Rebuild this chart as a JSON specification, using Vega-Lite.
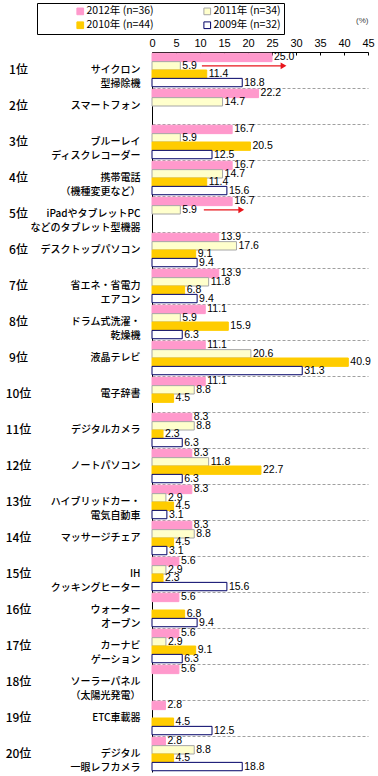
{
  "$schema": "https://vega.github.io/schema/vega-lite/v6.json",
  "width": 216,
  "height": 720,
  "autosize": {"type": "none"},
  "padding": {"left": 152, "top": 52, "right": 10, "bottom": 4},
  "background": "white",
  "config": {
    "view": {"stroke": null},
    "font": "Noto Sans CJK JP",
    "legend": {
      "orient": "none",
      "legendX": -115,
      "legendY": -49,
      "direction": "horizontal",
      "columns": 2,
      "strokeColor": "black",
      "strokeWidth": 1,
      "padding": 3,
      "symbolOffset": 35,
      "columnPadding": 13,
      "rowPadding": 2,
      "symbolType": "square",
      "symbolSize": 45,
      "symbolStrokeWidth": 1,
      "labelOffset": 1,
      "labelFontSize": 10.5,
      "labelFont": "Noto Sans CJK JP",
      "labelColor": "black",
      "title": null
    }
  },
  "datasets": {
    "main": [
      {"cat": "1位|サイクロン\n型掃除機", "year": "2012年 (n=36)", "value": 25.0},
      {"cat": "1位|サイクロン\n型掃除機", "year": "2011年 (n=34)", "value": 5.9},
      {"cat": "1位|サイクロン\n型掃除機", "year": "2010年 (n=44)", "value": 11.4},
      {"cat": "1位|サイクロン\n型掃除機", "year": "2009年 (n=32)", "value": 18.8},
      {"cat": "2位|スマートフォン", "year": "2012年 (n=36)", "value": 22.2},
      {"cat": "2位|スマートフォン", "year": "2011年 (n=34)", "value": 14.7},
      {"cat": "3位|ブルーレイ\nディスクレコーダー", "year": "2012年 (n=36)", "value": 16.7},
      {"cat": "3位|ブルーレイ\nディスクレコーダー", "year": "2011年 (n=34)", "value": 5.9},
      {"cat": "3位|ブルーレイ\nディスクレコーダー", "year": "2010年 (n=44)", "value": 20.5},
      {"cat": "3位|ブルーレイ\nディスクレコーダー", "year": "2009年 (n=32)", "value": 12.5},
      {"cat": "4位|携帯電話\n（機種変更など）", "year": "2012年 (n=36)", "value": 16.7},
      {"cat": "4位|携帯電話\n（機種変更など）", "year": "2011年 (n=34)", "value": 14.7},
      {"cat": "4位|携帯電話\n（機種変更など）", "year": "2010年 (n=44)", "value": 11.4},
      {"cat": "4位|携帯電話\n（機種変更など）", "year": "2009年 (n=32)", "value": 15.6},
      {"cat": "5位|iPadやタブレットPC\nなどのタブレット型機器", "year": "2012年 (n=36)", "value": 16.7},
      {"cat": "5位|iPadやタブレットPC\nなどのタブレット型機器", "year": "2011年 (n=34)", "value": 5.9},
      {"cat": "6位|デスクトップパソコン", "year": "2012年 (n=36)", "value": 13.9},
      {"cat": "6位|デスクトップパソコン", "year": "2011年 (n=34)", "value": 17.6},
      {"cat": "6位|デスクトップパソコン", "year": "2010年 (n=44)", "value": 9.1},
      {"cat": "6位|デスクトップパソコン", "year": "2009年 (n=32)", "value": 9.4},
      {"cat": "7位|省エネ・省電力\nエアコン", "year": "2012年 (n=36)", "value": 13.9},
      {"cat": "7位|省エネ・省電力\nエアコン", "year": "2011年 (n=34)", "value": 11.8},
      {"cat": "7位|省エネ・省電力\nエアコン", "year": "2010年 (n=44)", "value": 6.8},
      {"cat": "7位|省エネ・省電力\nエアコン", "year": "2009年 (n=32)", "value": 9.4},
      {"cat": "8位|ドラム式洗濯・\n乾燥機", "year": "2012年 (n=36)", "value": 11.1},
      {"cat": "8位|ドラム式洗濯・\n乾燥機", "year": "2011年 (n=34)", "value": 5.9},
      {"cat": "8位|ドラム式洗濯・\n乾燥機", "year": "2010年 (n=44)", "value": 15.9},
      {"cat": "8位|ドラム式洗濯・\n乾燥機", "year": "2009年 (n=32)", "value": 6.3},
      {"cat": "9位|液晶テレビ", "year": "2012年 (n=36)", "value": 11.1},
      {"cat": "9位|液晶テレビ", "year": "2011年 (n=34)", "value": 20.6},
      {"cat": "9位|液晶テレビ", "year": "2010年 (n=44)", "value": 40.9},
      {"cat": "9位|液晶テレビ", "year": "2009年 (n=32)", "value": 31.3},
      {"cat": "10位|電子辞書", "year": "2012年 (n=36)", "value": 11.1},
      {"cat": "10位|電子辞書", "year": "2011年 (n=34)", "value": 8.8},
      {"cat": "10位|電子辞書", "year": "2010年 (n=44)", "value": 4.5},
      {"cat": "11位|デジタルカメラ", "year": "2012年 (n=36)", "value": 8.3},
      {"cat": "11位|デジタルカメラ", "year": "2011年 (n=34)", "value": 8.8},
      {"cat": "11位|デジタルカメラ", "year": "2010年 (n=44)", "value": 2.3},
      {"cat": "11位|デジタルカメラ", "year": "2009年 (n=32)", "value": 6.3},
      {"cat": "12位|ノートパソコン", "year": "2012年 (n=36)", "value": 8.3},
      {"cat": "12位|ノートパソコン", "year": "2011年 (n=34)", "value": 11.8},
      {"cat": "12位|ノートパソコン", "year": "2010年 (n=44)", "value": 22.7},
      {"cat": "12位|ノートパソコン", "year": "2009年 (n=32)", "value": 6.3},
      {"cat": "13位|ハイブリッドカー・\n電気自動車", "year": "2012年 (n=36)", "value": 8.3},
      {"cat": "13位|ハイブリッドカー・\n電気自動車", "year": "2011年 (n=34)", "value": 2.9},
      {"cat": "13位|ハイブリッドカー・\n電気自動車", "year": "2010年 (n=44)", "value": 4.5},
      {"cat": "13位|ハイブリッドカー・\n電気自動車", "year": "2009年 (n=32)", "value": 3.1},
      {"cat": "14位|マッサージチェア", "year": "2012年 (n=36)", "value": 8.3},
      {"cat": "14位|マッサージチェア", "year": "2011年 (n=34)", "value": 8.8},
      {"cat": "14位|マッサージチェア", "year": "2010年 (n=44)", "value": 4.5},
      {"cat": "14位|マッサージチェア", "year": "2009年 (n=32)", "value": 3.1},
      {"cat": "15位|IH\nクッキングヒーター", "year": "2012年 (n=36)", "value": 5.6},
      {"cat": "15位|IH\nクッキングヒーター", "year": "2011年 (n=34)", "value": 2.9},
      {"cat": "15位|IH\nクッキングヒーター", "year": "2010年 (n=44)", "value": 2.3},
      {"cat": "15位|IH\nクッキングヒーター", "year": "2009年 (n=32)", "value": 15.6},
      {"cat": "16位|ウォーター\nオーブン", "year": "2012年 (n=36)", "value": 5.6},
      {"cat": "16位|ウォーター\nオーブン", "year": "2010年 (n=44)", "value": 6.8},
      {"cat": "16位|ウォーター\nオーブン", "year": "2009年 (n=32)", "value": 9.4},
      {"cat": "17位|カーナビ\nゲーション", "year": "2012年 (n=36)", "value": 5.6},
      {"cat": "17位|カーナビ\nゲーション", "year": "2011年 (n=34)", "value": 2.9},
      {"cat": "17位|カーナビ\nゲーション", "year": "2010年 (n=44)", "value": 9.1},
      {"cat": "17位|カーナビ\nゲーション", "year": "2009年 (n=32)", "value": 6.3},
      {"cat": "18位|ソーラーパネル\n（太陽光発電）", "year": "2012年 (n=36)", "value": 5.6},
      {"cat": "19位|ETC車載器", "year": "2012年 (n=36)", "value": 2.8},
      {"cat": "19位|ETC車載器", "year": "2010年 (n=44)", "value": 4.5},
      {"cat": "19位|ETC車載器", "year": "2009年 (n=32)", "value": 12.5},
      {"cat": "20位|デジタル\n一眼レフカメラ", "year": "2012年 (n=36)", "value": 2.8},
      {"cat": "20位|デジタル\n一眼レフカメラ", "year": "2011年 (n=34)", "value": 8.8},
      {"cat": "20位|デジタル\n一眼レフカメラ", "year": "2010年 (n=44)", "value": 4.5},
      {"cat": "20位|デジタル\n一眼レフカメラ", "year": "2009年 (n=32)", "value": 18.8}
    ],
    "arrows": [
      {"cat": "1位|サイクロン\n型掃除機", "year": "2011年 (n=34)", "from": 10.4, "to": 27.4},
      {"cat": "5位|iPadやタブレットPC\nなどのタブレット型機器", "year": "2011年 (n=34)", "from": 10.8, "to": 18.6}
    ]
  },
  "layer": [
    {
      "data": {"name": "main"},
      "mark": {"type": "bar", "strokeWidth": 1},
      "encoding": {
        "x": {
          "field": "value", "type": "quantitative",
          "scale": {"domain": [0, 45], "nice": false, "zero": true},
          "axis": {
            "orient": "top", "values": [0, 5, 10, 15, 20, 25, 30, 35, 40, 45],
            "grid": false, "domain": true, "domainColor": "black", "domainWidth": 1,
            "ticks": true, "tickColor": "black", "tickSize": -3, "labelPadding": 7,
            "labelFont": "Liberation Sans", "labelFontSize": 11, "labelColor": "black",
            "labelFlush": false, "labelOverlap": false,
            "title": "(%)", "titleAnchor": "end", "titleAlign": "right", "titlePadding": 13,
            "titleFontSize": 8, "titleFontWeight": "normal",
            "titleColor": "#444", "titleFont": "Liberation Sans"
          }
        },
        "y": {
          "field": "cat", "type": "nominal", "sort": null,
          "scale": {"paddingInner": 0, "paddingOuter": 0},
          "axis": {
            "orient": "left", "title": null,
            "labelExpr": "split(split(datum.value, '|')[1], '\\n')",
            "labelAlign": "right", "labelBaseline": "middle", "labelPadding": 12,
            "labelFontSize": 10, "labelFontWeight": 500, "labelLineHeight": 13.5,
            "labelColor": "black", "labelLimit": 200,
            "ticks": false, "domain": true, "domainColor": "black", "domainWidth": 1,
            "grid": true, "bandPosition": 0, "gridDash": [3, 2], "gridColor": "#A0A0A0", "gridWidth": 1
          }
        },
        "yOffset": {
          "field": "year", "type": "nominal",
          "scale": {"domain": ["2012年 (n=36)", "2011年 (n=34)", "2010年 (n=44)", "2009年 (n=32)"], "paddingInner": 0, "paddingOuter": 0.15}
        },
        "fill": {
          "field": "year", "type": "nominal",
          "scale": {"domain": ["2012年 (n=36)", "2011年 (n=34)", "2010年 (n=44)", "2009年 (n=32)"], "range": ["#FF99CC", "#FFFFCC", "#FFCC00", "#FFFFFF"]},
          "legend": {"labelExpr": "datum.label + '\u3000\u3000\u3000'"}
        },
        "stroke": {
          "field": "year", "type": "nominal",
          "scale": {"domain": ["2012年 (n=36)", "2011年 (n=34)", "2010年 (n=44)", "2009年 (n=32)"], "range": ["#FF99CC", "#A6A6A6", "#FFCC00", "#000066"]},
          "legend": {"labelExpr": "datum.label + '\u3000\u3000\u3000'"}
        }
      }
    },
    {
      "data": {"name": "main"},
      "mark": {"type": "text", "align": "left", "baseline": "middle", "dx": 2, "font": "Liberation Sans", "fontSize": 10.5, "color": "black"},
      "encoding": {
        "x": {
          "field": "value", "type": "quantitative",
          "scale": {"domain": [0, 45], "nice": false, "zero": true},
          "axis": {
            "orient": "top", "values": [0, 5, 10, 15, 20, 25, 30, 35, 40, 45],
            "grid": false, "domain": true, "domainColor": "black", "domainWidth": 1,
            "ticks": true, "tickColor": "black", "tickSize": -3, "labelPadding": 7,
            "labelFont": "Liberation Sans", "labelFontSize": 11, "labelColor": "black",
            "labelFlush": false, "labelOverlap": false,
            "title": "(%)", "titleAnchor": "end", "titleAlign": "right", "titlePadding": 13,
            "titleFontSize": 8, "titleFontWeight": "normal",
            "titleColor": "#444", "titleFont": "Liberation Sans"
          }
        },
        "y": {
          "field": "cat", "type": "nominal", "sort": null,
          "axis": {
            "orient": "left", "title": null, "offset": 134,
            "labelExpr": "split(datum.value, '|')[0]",
            "labelAlign": "center", "labelBaseline": "middle", "labelPadding": 0,
            "labelFontSize": 12, "labelFontWeight": 500, "labelColor": "black",
            "ticks": false, "domain": false, "grid": false
          }
        },
        "yOffset": {"field": "year", "type": "nominal", "scale": {"domain": ["2012年 (n=36)", "2011年 (n=34)", "2010年 (n=44)", "2009年 (n=32)"]}},
        "text": {"field": "value", "type": "quantitative", "format": ".1f"}
      }
    },
    {
      "data": {"name": "arrows"},
      "mark": {"type": "rule", "color": "#E8141B", "strokeWidth": 1.2},
      "encoding": {
        "x": {
          "field": "from", "type": "quantitative",
          "scale": {"domain": [0, 45], "nice": false, "zero": true},
          "axis": {
            "orient": "top", "values": [0, 5, 10, 15, 20, 25, 30, 35, 40, 45],
            "grid": false, "domain": true, "domainColor": "black", "domainWidth": 1,
            "ticks": true, "tickColor": "black", "tickSize": -3, "labelPadding": 7,
            "labelFont": "Liberation Sans", "labelFontSize": 11, "labelColor": "black",
            "labelFlush": false, "labelOverlap": false,
            "title": "(%)", "titleAnchor": "end", "titleAlign": "right", "titlePadding": 13,
            "titleFontSize": 8, "titleFontWeight": "normal",
            "titleColor": "#444", "titleFont": "Liberation Sans"
          }
        },
        "x2": {"field": "to"},
        "y": {"field": "cat", "type": "nominal", "sort": null, "axis": null},
        "yOffset": {"field": "year", "type": "nominal"}
      }
    },
    {
      "data": {"name": "arrows"},
      "mark": {"type": "point", "shape": "triangle-right", "filled": true, "color": "#E8141B", "size": 45, "opacity": 1},
      "encoding": {
        "x": {
          "field": "to", "type": "quantitative",
          "scale": {"domain": [0, 45], "nice": false, "zero": true},
          "axis": {
            "orient": "top", "values": [0, 5, 10, 15, 20, 25, 30, 35, 40, 45],
            "grid": false, "domain": true, "domainColor": "black", "domainWidth": 1,
            "ticks": true, "tickColor": "black", "tickSize": -3, "labelPadding": 7,
            "labelFont": "Liberation Sans", "labelFontSize": 11, "labelColor": "black",
            "labelFlush": false, "labelOverlap": false,
            "title": "(%)", "titleAnchor": "end", "titleAlign": "right", "titlePadding": 13,
            "titleFontSize": 8, "titleFontWeight": "normal",
            "titleColor": "#444", "titleFont": "Liberation Sans"
          }
        },
        "y": {"field": "cat", "type": "nominal", "sort": null, "axis": null},
        "yOffset": {"field": "year", "type": "nominal"}
      }
    }
  ],
  "resolve": {"axis": {"y": "independent"}}
}
